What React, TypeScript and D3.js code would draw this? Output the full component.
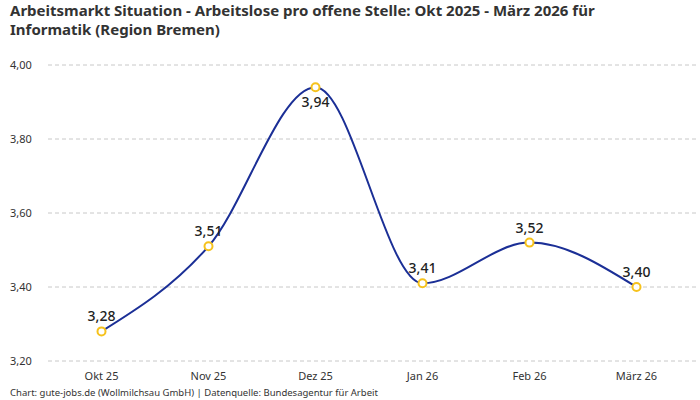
import * as d3 from "d3";

const months = ["Okt 25", "Nov 25", "Dez 25", "Jan 26", "Feb 26", "März 26"];
const values = [3.28, 3.51, 3.94, 3.41, 3.52, 3.4];
const yTicks = [3.2, 3.4, 3.6, 3.8, 4.0];
// labels under the point instead of above
const labelBelow = [false, false, true, false, false, false];

const W = 700;
const H = 400;
const FONT = "'Noto Sans', 'DejaVu Sans', sans-serif";
const fmt = (v: number) => v.toFixed(2).replace(".", ",");

export default function App() {
  const left = 48;
  const right = 690;
  const x = d3.scalePoint<string>().domain(months).range([left, right]).padding(0.5);
  const y = d3.scaleLinear().domain([3.2, 4.0]).range([361, 65]);

  const line = d3
    .line<number>()
    .x((_, i) => x(months[i])!)
    .y((d) => y(d))
    .curve(d3.curveMonotoneX);

  return (
    <svg
      width={W}
      height={H}
      style={{ position: "absolute", left: 0, top: 0, fontFamily: FONT }}
    >
      <rect width={W} height={H} fill="#fff" />
      <text x={10} y={16} fontSize={15} fontWeight={700} fill="#333">
        Arbeitsmarkt Situation - Arbeitslose pro offene Stelle: Okt 2025 - März 2026 für
      </text>
      <text x={10} y={35} fontSize={15} fontWeight={700} fill="#333">
        Informatik (Region Bremen)
      </text>

      {/* grid + y labels */}
      {yTicks.map((t) => (
        <g key={t}>
          <line
            x1={left}
            x2={696}
            y1={y(t)}
            y2={y(t)}
            stroke="#c8c8c8"
            strokeDasharray="4 3"
          />
          <text x={10} y={y(t) + 4} fontSize={11} fill="#333">
            {fmt(t)}
          </text>
        </g>
      ))}

      {/* x labels */}
      {months.map((m) => (
        <text key={m} x={x(m)} y={380} fontSize={11} fill="#333" textAnchor="middle">
          {m}
        </text>
      ))}

      <path d={line(values)!} fill="none" stroke="#1b2f96" strokeWidth={2} />

      {values.map((v, i) => (
        <g key={months[i]}>
          <circle
            cx={x(months[i])}
            cy={y(v)}
            r={4}
            fill="#fff"
            stroke="#f6c21c"
            strokeWidth={2}
          />
          <text
            x={x(months[i])}
            y={labelBelow[i] ? y(v) + 20 : y(v) - 10}
            fontSize={14}
            fontWeight={500}
            fill="#222"
            textAnchor="middle"
          >
            {fmt(v)}
          </text>
        </g>
      ))}

      <text x={10} y={396} fontSize={9.5} fill="#333">
        Chart: gute-jobs.de (Wollmilchsau GmbH) | Datenquelle: Bundesagentur für Arbeit
      </text>
    </svg>
  );
}
